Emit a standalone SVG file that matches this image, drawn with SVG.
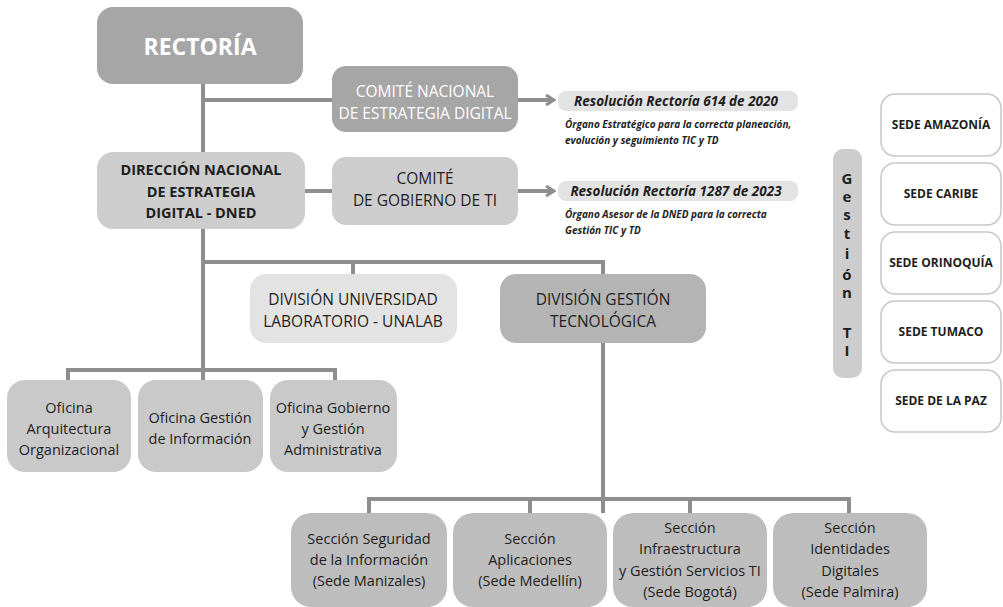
<svg xmlns="http://www.w3.org/2000/svg" width="1003" height="607" viewBox="0 0 1003 607">
<defs>
<marker id="arr" markerWidth="12" markerHeight="12" refX="9" refY="6" orient="auto" markerUnits="userSpaceOnUse">
<path d="M2,1 L10,6 L2,11" fill="none" stroke="#8e8e8e" stroke-width="3"/>
</marker>
<style>
text{font-family:"Open Sans","Noto Sans","Liberation Sans",sans-serif;text-anchor:middle}
.ln{fill:none;stroke:#8e8e8e;stroke-width:4}
.w{fill:#ffffff}
.d{fill:#1e1e1e}
.b{font-weight:bold}
.t16{font-size:15.5px}
.t15{font-size:14.5px}
.res{font-size:13.5px;font-weight:bold;font-style:italic;fill:#1e1e1e}
.sub{font-size:10px;font-weight:bold;font-style:italic;fill:#1e1e1e;text-anchor:start}
.sede{fill:#ffffff;stroke:#c8c8c8;stroke-width:1.5}
.st{font-size:12px;font-weight:bold;fill:#1e1e1e}
.g{font-size:15px;font-weight:bold;fill:#1e1e1e}
</style>
</defs>
<rect width="1003" height="607" fill="#ffffff"/>
<g id="connectors">
<path class="ln" d="M203,84 V380"/>
<path class="ln" d="M203,100 H332"/>
<path class="ln" d="M305,191 H332"/>
<path class="ln" d="M518,100 H553" marker-end="url(#arr)"/>
<path class="ln" d="M518,191 H553" marker-end="url(#arr)"/>
<path class="ln" d="M203,262 H603 V274"/>
<path class="ln" d="M353,262 V274"/>
<path class="ln" d="M68,380 V370 H335 V380"/>
<path class="ln" d="M603,343 V513"/>
<path class="ln" d="M369,513 V499 H849 V513"/>
<path class="ln" d="M530,499 V513"/>
<path class="ln" d="M690,499 V513"/>
</g>
<g id="rectoria">
<rect x="97" y="7" width="206" height="77" rx="16" fill="#a6a6a6"/>
<text x="200" y="55" class="w b" font-size="23">RECTORÍA</text>
</g>
<g id="comite-nacional">
<rect x="332" y="66" width="186" height="66" rx="14" fill="#a6a6a6"/>
<text x="425" y="97" class="w t16">COMITÉ NACIONAL</text>
<text x="425" y="119" class="w t16">DE ESTRATEGIA DIGITAL</text>
</g>
<g id="res-614">
<rect x="558" y="91" width="240" height="20" rx="8" fill="#e3e3e3"/>
<text x="676" y="106" class="res">Resolución Rectoría 614 de 2020</text>
<text x="565" y="128" class="sub">Órgano Estratégico para la correcta planeación,</text>
<text x="565" y="144" class="sub">evolución y seguimiento TIC y TD</text>
</g>
<g id="dned">
<rect x="97" y="152" width="208" height="77" rx="16" fill="#cdcdcd"/>
<text x="201" y="175" class="d b" font-size="14.5">DIRECCIÓN NACIONAL</text>
<text x="201" y="197" class="d b" font-size="14.5">DE ESTRATEGIA</text>
<text x="201" y="218" class="d b" font-size="14.5">DIGITAL - DNED</text>
</g>
<g id="comite-gobierno">
<rect x="332" y="157" width="186" height="68" rx="14" fill="#cdcdcd"/>
<text x="425" y="184" class="d t16">COMITÉ</text>
<text x="425" y="206" class="d t16">DE GOBIERNO DE TI</text>
</g>
<g id="res-1287">
<rect x="558" y="181" width="240" height="20" rx="8" fill="#e3e3e3"/>
<text x="676" y="196" class="res">Resolución Rectoría 1287 de 2023</text>
<text x="565" y="218" class="sub">Órgano Asesor de la DNED para la correcta</text>
<text x="565" y="234" class="sub">Gestión TIC y TD</text>
</g>
<g id="unalab">
<rect x="250" y="274" width="207" height="69" rx="16" fill="#e3e3e3"/>
<text x="353" y="305" class="d t16">DIVISIÓN UNIVERSIDAD</text>
<text x="353" y="327" class="d t16">LABORATORIO - UNALAB</text>
</g>
<g id="dgt">
<rect x="500" y="274" width="206" height="69" rx="16" fill="#b4b4b4"/>
<text x="603" y="305" class="d t16">DIVISIÓN GESTIÓN</text>
<text x="603" y="327" class="d t16">TECNOLÓGICA</text>
</g>
<g id="of-arquitectura">
<rect x="7" y="380" width="124" height="92" rx="18" fill="#c9c9c9"/>
<text x="69" y="413" class="d t15">Oficina</text>
<text x="69" y="434" class="d t15">Arquitectura</text>
<text x="69" y="455" class="d t15">Organizacional</text>
</g>
<g id="of-informacion">
<rect x="138" y="380" width="125" height="92" rx="18" fill="#c9c9c9"/>
<text x="200" y="423" class="d t15">Oficina Gestión</text>
<text x="200" y="444" class="d t15">de Información</text>
</g>
<g id="of-gobierno">
<rect x="270" y="380" width="127" height="92" rx="18" fill="#c9c9c9"/>
<text x="333" y="413" class="d t15">Oficina Gobierno</text>
<text x="333" y="434" class="d t15">y Gestión</text>
<text x="333" y="455" class="d t15">Administrativa</text>
</g>
<g id="sec-seguridad">
<rect x="291" y="513" width="156" height="94" rx="20" fill="#bdbdbd"/>
<text x="369" y="544" class="d t15">Sección Seguridad</text>
<text x="369" y="565" class="d t15">de la Información</text>
<text x="369" y="586" class="d t15">(Sede Manizales)</text>
</g>
<g id="sec-aplicaciones">
<rect x="453" y="513" width="154" height="94" rx="20" fill="#bdbdbd"/>
<text x="530" y="544" class="d t15">Sección</text>
<text x="530" y="565" class="d t15">Aplicaciones</text>
<text x="530" y="586" class="d t15">(Sede Medellín)</text>
</g>
<g id="sec-infraestructura">
<rect x="613" y="513" width="154" height="94" rx="20" fill="#bdbdbd"/>
<text x="690" y="533" class="d t15">Sección</text>
<text x="690" y="554" class="d t15">Infraestructura</text>
<text x="690" y="576" class="d t15">y Gestión Servicios TI</text>
<text x="690" y="597" class="d t15">(Sede Bogotá)</text>
</g>
<g id="sec-identidades">
<rect x="773" y="513" width="154" height="94" rx="20" fill="#bdbdbd"/>
<text x="850" y="533" class="d t15">Sección</text>
<text x="850" y="554" class="d t15">Identidades</text>
<text x="850" y="576" class="d t15">Digitales</text>
<text x="850" y="597" class="d t15">(Sede Palmira)</text>
</g>
<g id="gestion-ti">
<rect x="833" y="149" width="29" height="229" rx="10" fill="#cdcdcd"/>
<text x="847" y="184" class="g">G</text>
<text x="847" y="202" class="g">e</text>
<text x="847" y="220" class="g">s</text>
<text x="847" y="239" class="g">t</text>
<text x="847" y="259" class="g">i</text>
<text x="847" y="280" class="g">ó</text>
<text x="847" y="298" class="g">n</text>
<text x="847" y="338" class="g">T</text>
<text x="847" y="356" class="g">I</text>
</g>
<g id="sede-amazonia">
<rect x="881" y="94" width="120" height="62" rx="14" class="sede"/>
<text x="941" y="129" class="st">SEDE AMAZONÍA</text>
</g>
<g id="sede-caribe">
<rect x="881" y="163" width="120" height="62" rx="14" class="sede"/>
<text x="941" y="198" class="st">SEDE CARIBE</text>
</g>
<g id="sede-orinoquia">
<rect x="881" y="232" width="120" height="62" rx="14" class="sede"/>
<text x="941" y="267" class="st">SEDE ORINOQUÍA</text>
</g>
<g id="sede-tumaco">
<rect x="881" y="301" width="120" height="62" rx="14" class="sede"/>
<text x="941" y="336" class="st">SEDE TUMACO</text>
</g>
<g id="sede-la-paz">
<rect x="881" y="370" width="120" height="62" rx="14" class="sede"/>
<text x="941" y="405" class="st">SEDE DE LA PAZ</text>
</g>
</svg>
